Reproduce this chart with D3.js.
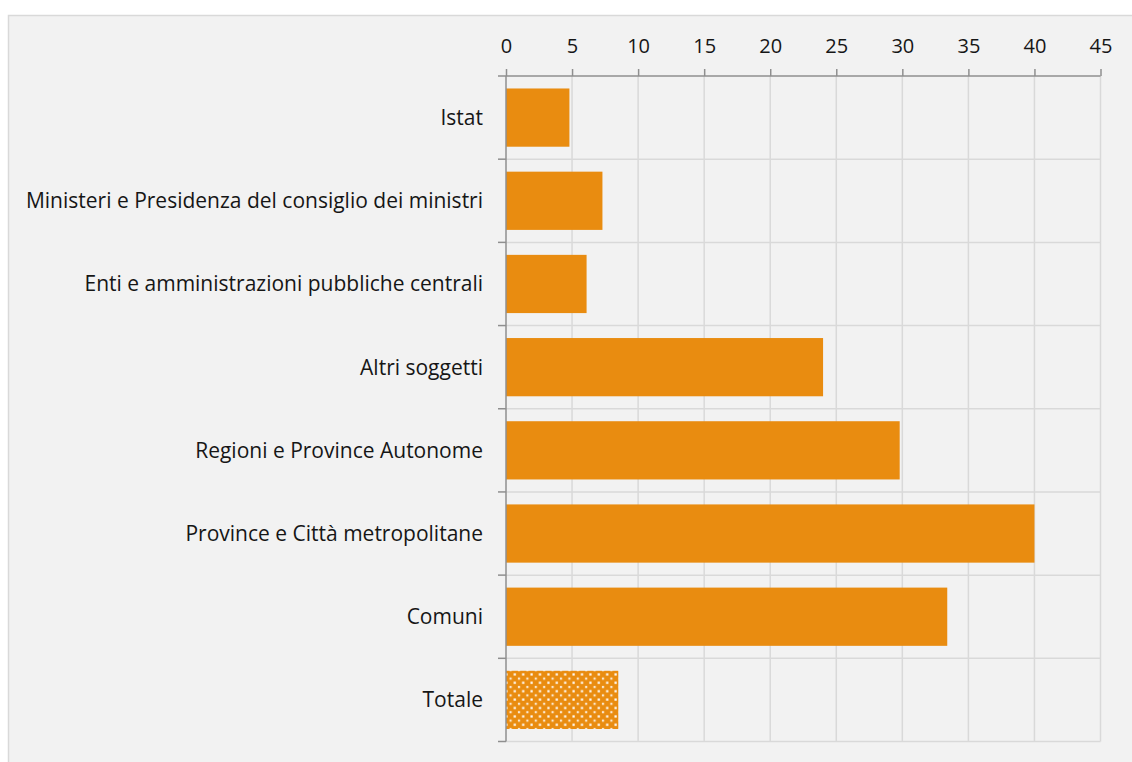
<!DOCTYPE html>
<html>
<head>
<meta charset="utf-8">
<script src="https://cdn.jsdelivr.net/npm/d3@7"></script>
<style>
  html, body { margin: 0; padding: 0; background: #ffffff; }
  svg { display: block; }
  text { font-family: "Open Sans", Lato, sans-serif; fill: #161616; }
</style>
</head>
<body>
<svg id="chart" width="1132" height="762"></svg>
<script>
// Categories (top to bottom) and their values
const categories = [
  "Istat",
  "Ministeri e Presidenza del consiglio dei ministri",
  "Enti e amministrazioni pubbliche centrali",
  "Altri soggetti",
  "Regioni e Province Autonome",
  "Province e Città metropolitane",
  "Comuni",
  "Totale"
];
const values = [4.8, 7.3, 6.1, 24.0, 29.8, 40.0, 33.4, 8.5];
const tickValues = [0, 5, 10, 15, 20, 25, 30, 35, 40, 45];

(function () {
  const svg = d3.select("#chart");
  const W = 1132, H = 762;

  // panel background
  svg.append("rect")
    .attr("x", 8.5).attr("y", 15.5)
    .attr("width", W).attr("height", H)
    .attr("fill", "#f2f2f2")
    .attr("stroke", "#d9d9d9").attr("stroke-width", 1.5);

  const pLeft = 506, pRight = 1100.5, pTop = 76, pBottom = 741.5;

  const x = d3.scaleLinear().domain([0, 45]).range([pLeft, pRight]);
  const y = d3.scaleBand().domain(categories).range([pTop, pBottom]).paddingInner(0.3).paddingOuter(0.15);
  const band = d3.scaleBand().domain(categories).range([pTop, pBottom]);

  // dotted pattern for the total
  const defs = svg.append("defs");
  const pat = defs.append("pattern")
    .attr("id", "dots")
    .attr("patternUnits", "userSpaceOnUse")
    .attr("width", 8.4).attr("height", 8.4);
  pat.append("rect").attr("width", 8.4).attr("height", 8.4).attr("fill", "#e98c10");
  pat.append("rect").attr("x", 1.3).attr("y", 1.3).attr("width", 2.2).attr("height", 2.2).attr("fill", "#ffffff");
  pat.append("rect").attr("x", 5.5).attr("y", 5.5).attr("width", 2.2).attr("height", 2.2).attr("fill", "#ffffff").attr("opacity", 0.8);

  // vertical gridlines
  svg.append("g").selectAll("line")
    .data(tickValues.slice(1))
    .join("line")
    .attr("x1", d => x(d)).attr("x2", d => x(d))
    .attr("y1", pTop).attr("y2", pBottom)
    .attr("stroke", "#d9d9d9").attr("stroke-width", 1.5);

  // horizontal gridlines at category boundaries
  const bounds = categories.map(c => band(c)).concat([pBottom]);
  svg.append("g").selectAll("line")
    .data(bounds.slice(1))
    .join("line")
    .attr("x1", pLeft).attr("x2", pRight)
    .attr("y1", d => d).attr("y2", d => d)
    .attr("stroke", "#d9d9d9").attr("stroke-width", 1.5);

  // bars
  svg.append("g").selectAll("rect")
    .data(categories)
    .join("rect")
    .attr("x", x(0))
    .attr("y", d => y(d))
    .attr("width", (d, i) => x(values[i]) - x(0))
    .attr("height", y.bandwidth())
    .attr("fill", d => d === "Totale" ? "url(#dots)" : "#e98c10");

  // top value axis
  const xAxis = d3.axisTop(x).tickValues(tickValues).tickSize(7).tickPadding(16);
  const gx = svg.append("g").attr("transform", `translate(0,${pTop})`).call(xAxis);
  gx.select(".domain").attr("stroke", "#8f8f8f").attr("stroke-width", 1.5)
    .attr("d", `M${pLeft - 8},0H${pRight}`);
  gx.selectAll(".tick line").attr("stroke", "#8f8f8f").attr("stroke-width", 1.5);
  gx.selectAll(".tick text").attr("font-size", 20).attr("font-family", "'Open Sans', sans-serif").attr("fill", "#161616");

  // left category axis line with boundary ticks
  svg.append("line")
    .attr("x1", pLeft).attr("x2", pLeft).attr("y1", pTop).attr("y2", pBottom)
    .attr("stroke", "#8f8f8f").attr("stroke-width", 1.5);
  svg.append("g").selectAll("line")
    .data(bounds.slice(1))
    .join("line")
    .attr("x1", pLeft - 8).attr("x2", pLeft)
    .attr("y1", d => d).attr("y2", d => d)
    .attr("stroke", "#8f8f8f").attr("stroke-width", 1.5);

  // category labels
  svg.append("g").selectAll("text")
    .data(categories)
    .join("text")
    .attr("x", 483)
    .attr("y", d => band(d) + band.bandwidth() / 2)
    .attr("dy", "0.35em")
    .attr("text-anchor", "end")
    .attr("font-size", 21)
    .text(d => d);
})();
</script>
</body>
</html>
